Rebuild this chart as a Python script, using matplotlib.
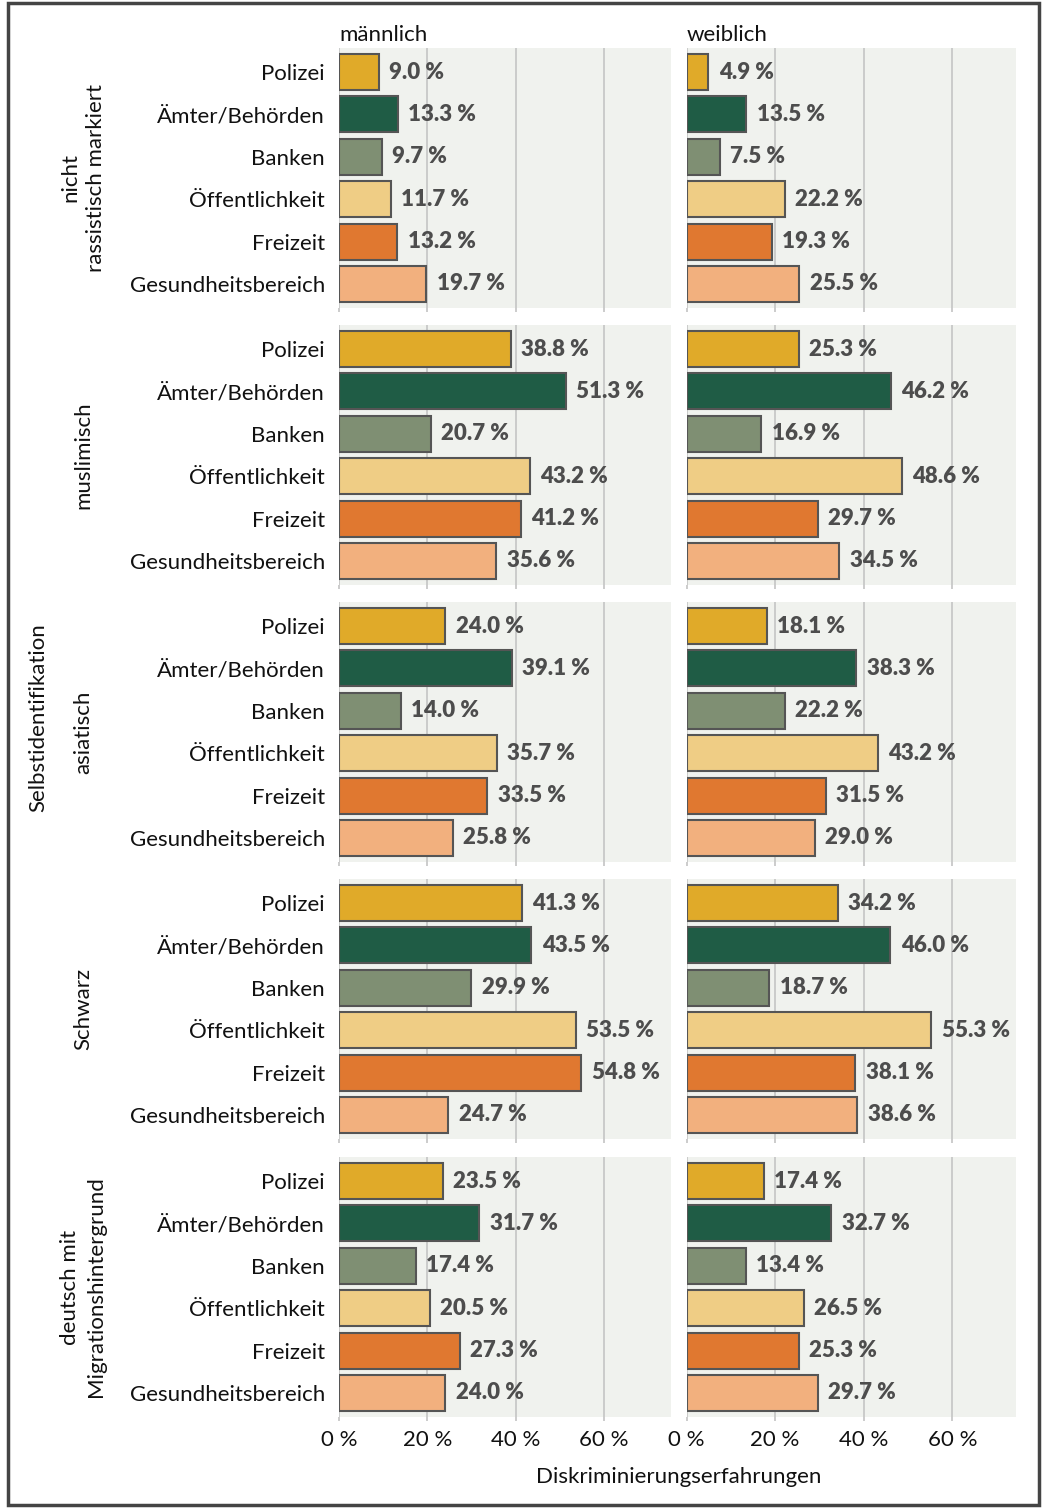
import matplotlib
matplotlib.use("Agg")
import matplotlib.pyplot as plt
from matplotlib.patches import Rectangle

plt.rcParams['font.family'] = ['Lato', 'DejaVu Sans']

categories = ["Polizei", "Ämter/Behörden", "Banken", "Öffentlichkeit", "Freizeit", "Gesundheitsbereich"]
colors = ["#E0AA29", "#1F5C45", "#7F8F73", "#EFCD85", "#E07830", "#F2B07E"]
groups = ["nicht\nrassistisch markiert", "muslimisch", "asiatisch", "Schwarz",
          "deutsch mit\nMigrationshintergrund"]
genders = ["männlich", "weiblich"]

male_values = [
    [9.0, 13.3, 9.7, 11.7, 13.2, 19.7],
    [38.8, 51.3, 20.7, 43.2, 41.2, 35.6],
    [24.0, 39.1, 14.0, 35.7, 33.5, 25.8],
    [41.3, 43.5, 29.9, 53.5, 54.8, 24.7],
    [23.5, 31.7, 17.4, 20.5, 27.3, 24.0],
]
female_values = [
    [4.9, 13.5, 7.5, 22.2, 19.3, 25.5],
    [25.3, 46.2, 16.9, 48.6, 29.7, 34.5],
    [18.1, 38.3, 22.2, 43.2, 31.5, 29.0],
    [34.2, 46.0, 18.7, 55.3, 38.1, 38.6],
    [17.4, 32.7, 13.4, 26.5, 25.3, 29.7],
]
xticks = [0, 20, 40, 60]
xtick_labels = ["0 %", "20 %", "40 %", "60 %"]

W, H = 1045, 1508
fig = plt.figure(figsize=(W / 100, H / 100), dpi=100)

col_left = [339, 686.5]
col_width = [332, 330]
row_tops = [48, 325, 602, 879, 1157]
row_h = 260
xmax = [75.1, 74.5]

bg = "#F0F2EE"
grid_c = "#C8C8C8"
edge_c = "#555555"
lab_c = "#4D4D4D"
fs = 16

for r, grp in enumerate(groups):
    for c in range(2):
        vals = male_values[r] if c == 0 else female_values[r]
        ax = fig.add_axes([col_left[c] / W, 1 - (row_tops[r] + row_h) / H,
                           col_width[c] / W, row_h / H])
        ax.set_facecolor(bg)
        ax.set_xlim(0, xmax[c])
        ax.set_ylim(5.57, -0.57)
        for s in ax.spines.values():
            s.set_visible(False)
        ax.set_xticks(xticks)
        ax.grid(axis="x", color=grid_c, linewidth=1.3)
        ax.set_axisbelow(True)
        ax.tick_params(axis="x", length=3, color=grid_c, width=1.3)
        ax.tick_params(axis="y", length=0)
        y = list(range(len(categories)))
        ax.barh(y, vals, height=0.85, color=colors, edgecolor=edge_c, linewidth=1.5, zorder=3)
        for yi, v in zip(y, vals):
            ax.annotate(f"{v:.1f} %", (v, yi), xytext=(7.5, 0), textcoords="offset points",
                        va="center", ha="left", fontsize=fs, fontweight="heavy", color=lab_c,
                        zorder=4)
        if c == 0:
            ax.set_yticks(y)
            ax.set_yticklabels(categories, fontsize=fs, color="#111111")
            ax.tick_params(axis="y", pad=10)
        else:
            ax.set_yticks([])
        if r == len(groups) - 1:
            ax.set_xticklabels(xtick_labels, fontsize=fs, color="#111111")
            ax.tick_params(axis="x", pad=6)
        else:
            ax.set_xticklabels([])
        if r == 0:
            ax.text(0, 1.012, genders[c], transform=ax.transAxes, ha="left", va="bottom",
                    fontsize=fs, color="#111111")
    # row label
    cy = row_tops[r] + row_h / 2
    fig.text(83 / W, 1 - cy / H, grp, rotation=90, ha="center", va="center",
             fontsize=fs, color="#111111", multialignment="center", linespacing=1.35)

fig.text(38 / W, 1 - 718 / H, "Selbstidentifikation", rotation=90, ha="center",
         va="center", fontsize=fs, color="#111111")
fig.text(679 / W, 1 - 1477 / H, "Diskriminierungserfahrungen", ha="center", va="center",
         fontsize=fs, color="#111111")

fig.patches.append(Rectangle((8 / W, 1 - 1505 / H), (1039 - 8) / W, (1505 - 3) / H,
                             transform=fig.transFigure, fill=False, edgecolor="#444444",
                             linewidth=2.5))

fig.savefig("out.png", dpi=100, facecolor="white")
